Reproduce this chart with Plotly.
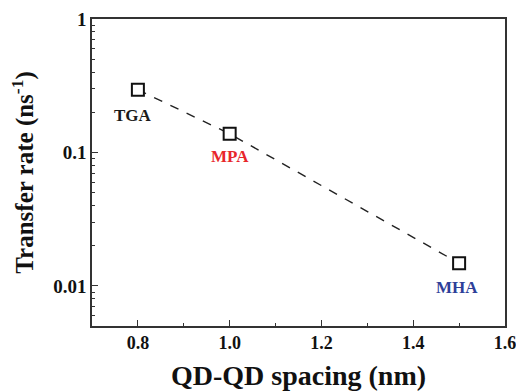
import math
import plotly.graph_objects as go

spacing = [0.8, 1.0, 1.5]
rate = [0.295, 0.138, 0.0148]
ligands = ["TGA", "MPA", "MHA"]
label_colors = ["#1a1a1a", "#e8262b", "#2e3f99"]

FONT = "Liberation Serif"

fig = go.Figure()
fig.add_trace(go.Scatter(x=spacing, y=rate, mode="lines",
                         line=dict(color="#222", width=1.4, dash="dash"),
                         hoverinfo="skip", showlegend=False))
fig.add_trace(go.Scatter(x=spacing, y=rate, mode="markers",
                         marker=dict(symbol="square", size=12, color="white",
                                     line=dict(color="#111", width=2)),
                         showlegend=False))

offsets = [(-0.01, -0.195), (0.0, -0.17), (-0.005, -0.18)]
for xv, yv, name, col, (dx, dy) in zip(spacing, rate, ligands, label_colors, offsets):
    fig.add_annotation(x=xv + dx, y=math.log10(yv) + dy, text=name, showarrow=False,
                       font=dict(family=FONT, size=17, color=col, weight="bold"))

minor_y = [m * 10 ** e for e in (-3, -2, -1) for m in range(2, 10)]

fig.update_layout(
    width=516, height=391,
    margin=dict(l=92, r=11, t=19, b=65),
    plot_bgcolor="white", paper_bgcolor="white",
    font=dict(family=FONT, color="#111"),
    xaxis=dict(range=[0.7, 1.6], tickvals=[0.8, 1.0, 1.2, 1.4, 1.6],
               ticktext=["0.8", "1.0", "1.2", "1.4", "1.6"],
               ticks="inside", ticklen=6, tickwidth=1.2, tickcolor="#333",
               minor=dict(tickvals=[0.9, 1.1, 1.3, 1.5], ticks="inside", ticklen=3,
                          tickcolor="#333", tickwidth=1),
               showline=True, linecolor="#333", linewidth=1.6, mirror=True,
               showgrid=False, zeroline=False, automargin=False,
               ticklabeloverflow="allow",
               tickfont=dict(family=FONT, size=18, weight="bold", color="#111"),
               title=dict(text="QD-QD spacing (nm)", standoff=14,
                          font=dict(family=FONT, size=28, weight="bold", color="#111"))),
    yaxis=dict(type="log", range=[-2.3, 0], tickvals=[0.01, 0.1, 1],
               ticktext=["0.01", "0.1", "1"],
               ticks="inside", ticklen=6, tickwidth=1.2, tickcolor="#333",
               minor=dict(tickvals=minor_y, ticks="inside", ticklen=3,
                          tickcolor="#333", tickwidth=1),
               showline=True, linecolor="#333", linewidth=1.6, mirror=True,
               showgrid=False, zeroline=False, automargin=False,
               tickfont=dict(family=FONT, size=19, weight="bold", color="#111"),
               title=dict(text="Transfer rate (ns<sup>-1</sup>)", standoff=12,
                          font=dict(family=FONT, size=25, weight="bold", color="#111"))),
)

fig.write_html("out.html")
